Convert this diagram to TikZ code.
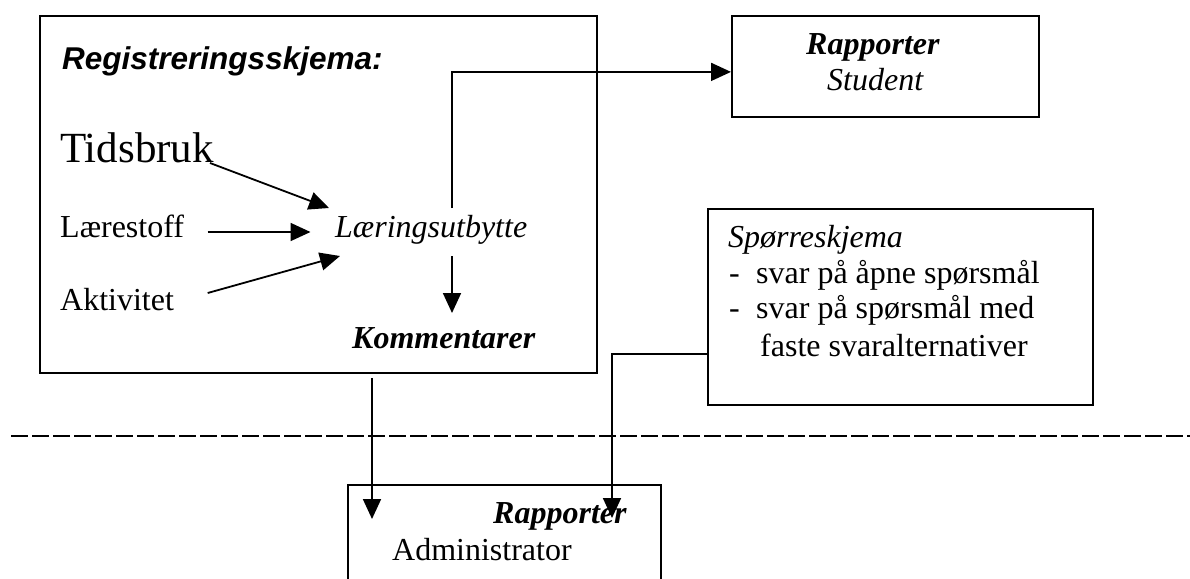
\documentclass[tikz,border=0pt]{standalone}
\usepackage{fontspec}
\setmainfont{Liberation Serif}
\newfontfamily\arialfont{Liberation Sans}
\usetikzlibrary{arrows.meta,calc}
\tikzset{
  boks/.style={draw,line width=1.8pt,inner sep=0pt,anchor=north west},
  tekst/.style={inner sep=0pt,anchor=base west,font=\fontsize{32}{37}\selectfont},
  kursiv/.style={tekst,font=\fontsize{32}{37}\selectfont\itshape},
  fet/.style={tekst,font=\fontsize{32}{37}\selectfont\bfseries\itshape},
  pil/.style={line width=1.8pt,-{Triangle[length=20pt,width=18pt]}},
  stiplet/.style={line width=2.5pt,dash pattern=on 17pt off 4pt}
}

\begin{document}
\begin{tikzpicture}[x=1pt,y=-1pt]
\useasboundingbox (0,0) rectangle (1190,578);
\clip (0,0) rectangle (1190,578);

% boxes
\node[boks,minimum width=557pt,minimum height=357pt] (reg) at (39,15) {};
\node[boks,minimum width=307pt,minimum height=101pt] (stu) at (731,15) {};
\node[boks,minimum width=385pt,minimum height=196pt] (spo) at (707,208) {};
\node[boks,minimum width=313pt,minimum height=150pt] (adm) at (347,484) {};

% registration form
\node[tekst,font=\arialfont\fontsize{31.5}{37}\selectfont\bfseries\itshape] (regtittel) at (62,70) {Registreringsskjema:};
\node[tekst,font=\fontsize{43}{49}\selectfont] (tid) at (60,162) {Tidsbruk};
\node[tekst] (lae) at (60,237) {Lærestoff};
\node[tekst] (akt) at (60,310) {Aktivitet};
\node[kursiv] (lu) at (335,237) {Læringsutbytte};
\node[fet] (kom) at (352,348) {Kommentarer};
\coordinate (kol) at ($(lu.base west)+(117,0)$);

% reports and questionnaire
\node[fet] (stu1) at (806,55) {Rapporter};
\node[kursiv] (stu2) at (827,90) {Student};
\node[kursiv] (spo1) at (728,247) {Spørreskjema};
\node[tekst] (spo2) at (729,283) {\makebox[27pt][l]{-}svar på åpne spørsmål};
\node[tekst] (spo3) at (729,318) {\makebox[27pt][l]{-}svar på spørsmål med};
\node[tekst] (spo4) at (760,356) {faste svaralternativer};
\node[fet] (adm1) at (493,523) {Rapporter};
\node[tekst] (adm2) at (392,560) {Administrator};

% arrows
\draw[pil] ($(tid.base west)+(150,1)$) -- ($(lu.base west)+(-6,-29)$);
\draw[pil] ($(lae.base west)+(147.7,-5)$) -- ($(lu.base west)+(-24.5,-5)$);
\draw[pil] ($(akt.base west)+(147.7,-17)$) -- ($(lu.base west)+(5,19)$);
\draw[pil] ($(kol)+(0,19)$) -- ($(kol |- kom.base)+(0,-35)$);
\draw[pil] ($(kol)+(0,-29)$) |- ($(stu.west)+(0,5.5)$);
\draw[pil] ($(reg.south west)+(333,4)$) -- ($(adm.north west)+(25,35)$);
\draw[pil] ($(spo.west)+(0,47)$) -| ($(adm.north west)+(265,34)$);

% separator
\draw[stiplet] (11,436) -- (1190,436);
\end{tikzpicture}
\end{document}
